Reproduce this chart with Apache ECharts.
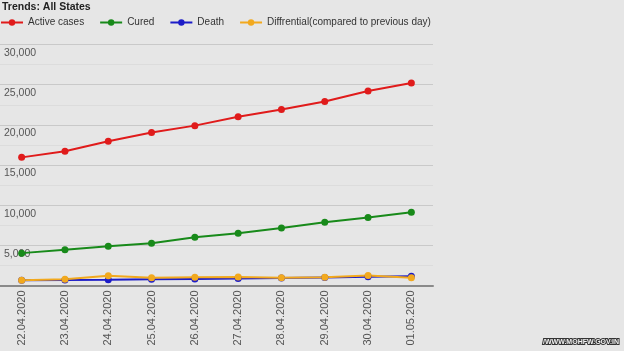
<!DOCTYPE html>
<html>
<head>
<meta charset="utf-8">
<script src="https://cdn.jsdelivr.net/npm/echarts@6/dist/echarts.min.js"></script>
<style>
html,body{margin:0;padding:0;background:#e6e6e6;}
#chart{width:624px;height:351px;}
</style>
</head>
<body>
<div id="chart"></div>
<script>
const categories = ['22.04.2020','23.04.2020','24.04.2020','25.04.2020','26.04.2020','27.04.2020','28.04.2020','29.04.2020','30.04.2020','01.05.2020'];
const activeCases = [15950, 16700, 17950, 19050, 19900, 21000, 21900, 22900, 24200, 25200];
const cured = [4030, 4440, 4900, 5270, 6020, 6500, 7170, 7880, 8460, 9120];
const death = [652, 686, 718, 775, 824, 872, 934, 1007, 1074, 1147];
const differential = [650, 770, 1210, 970, 1020, 1050, 970, 1020, 1260, 970];
const seriesNames = ['Active cases','Cured','Death','Diffrential(compared to previous day)'];
const seriesColors = ['#e01b1b','#188a1a','#1c1cc8','#f2a91e'];
const yTicks = [0, 5000, 10000, 15000, 20000, 25000, 30000];

const chart = echarts.init(document.getElementById('chart'), null, {renderer:'canvas'});
const dataSets = [activeCases, cured, death, differential];

chart.setOption({
  backgroundColor: '#e6e6e6',
  animation: false,
  textStyle: {fontFamily: 'Liberation Sans, Arial, sans-serif'},
  title: {
    text: 'Trends: All States',
    left: 2, top: 2, padding: 0,
    textStyle: {fontSize: 10.5, fontWeight: 'bold', color: '#222', fontFamily: 'Liberation Sans, Arial, sans-serif'}
  },
  legend: {
    left: 0, top: 17.5, padding: 0,
    itemWidth: 22, itemHeight: 8,
    itemGap: 15,
    textStyle: {fontSize: 10, color: '#333'},
    data: seriesNames
  },
  grid: {left: 0, right: 191, top: 44.5, bottom: 65.5, containLabel: false},
  xAxis: {
    type: 'category',
    data: categories,
    boundaryGap: true,
    axisLine: {lineStyle: {color: '#8a8a8a', width: 2}},
    axisTick: {show: false},
    axisLabel: {rotate: 90, fontSize: 11, color: '#555', margin: 5, interval: 0}
  },
  yAxis: {
    type: 'value',
    min: yTicks[0], max: yTicks[yTicks.length-1], interval: 5000,
    axisLine: {show: false},
    axisTick: {show: false},
    splitLine: {lineStyle: {color: '#c9c9c9', width: 1}},
    minorTick: {show: false, splitNumber: 2},
    minorSplitLine: {show: true, lineStyle: {color: '#dcdcdc', width: 1}},
    axisLabel: {
      inside: true, margin: 4, fontSize: 10.5, color: '#555',
      verticalAlign: 'top', padding: [3,0,0,0],
      showMinLabel: false,
      formatter: v => v === 0 ? '' : v.toLocaleString('en-US')
    }
  },
  series: dataSets.map((d, i) => ({
    name: seriesNames[i],
    type: 'line',
    data: d,
    symbol: 'circle',
    symbolSize: 7,
    showSymbol: true,
    color: seriesColors[i],
    lineStyle: {width: 2, color: seriesColors[i]},
    itemStyle: {color: seriesColors[i]}
  })),
  graphic: [{
    type: 'text',
    right: 4, bottom: 4,
    style: {text: '/WWW.MOHFW.GOV.IN', fontSize: 7, fontWeight: 'bold', fill: '#f2f2f2', stroke: '#333', lineWidth: 2, fontFamily: 'Liberation Sans, Arial, sans-serif'}
  }]
});
</script>
</body>
</html>
